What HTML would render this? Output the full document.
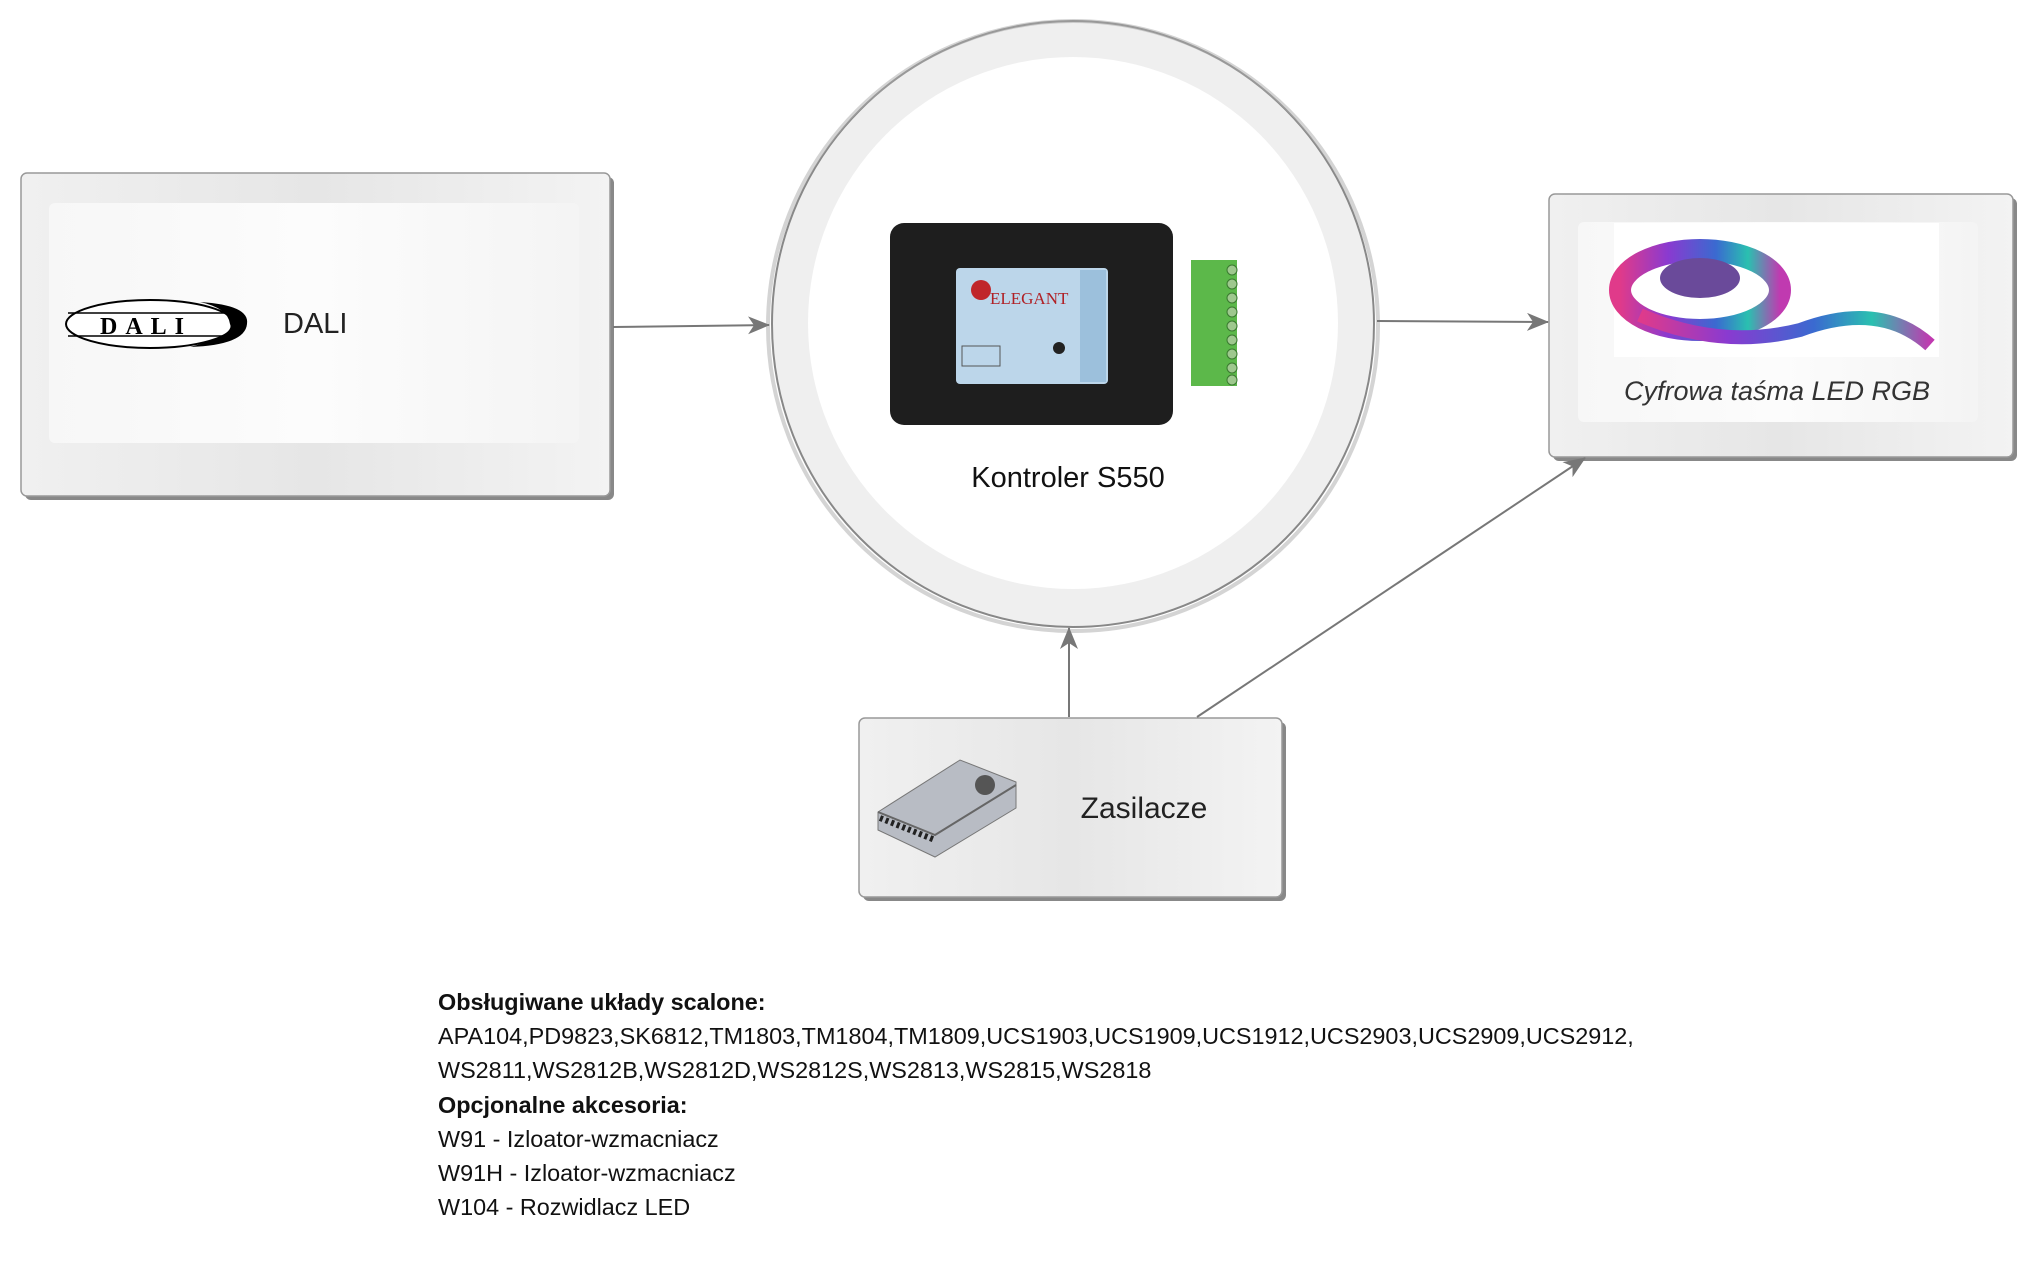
<!DOCTYPE html>
<html><head><meta charset="utf-8"><style>
html,body{margin:0;padding:0;background:#fff;}
body{width:2030px;height:1276px;overflow:hidden;position:relative;font-family:"Liberation Sans",sans-serif;}
.txt{position:absolute;left:438px;top:985px;font-size:23.4px;line-height:34.2px;color:#111;}
.txt b{font-weight:bold;}
</style></head><body>
<svg width="2030" height="1276" viewBox="0 0 2030 1276" xmlns="http://www.w3.org/2000/svg" style="position:absolute;left:0;top:0">
<defs>
<linearGradient id="bx" x1="0" x2="1" y1="0" y2="0">
<stop offset="0" stop-color="#f0f0f0"/><stop offset="0.5" stop-color="#e6e6e6"/><stop offset="1" stop-color="#f3f3f3"/></linearGradient>
<linearGradient id="inn" x1="0" x2="1"><stop offset="0" stop-color="#f7f7f7"/><stop offset="0.5" stop-color="#fcfcfc"/><stop offset="1" stop-color="#f4f4f4"/></linearGradient>
<marker id="ar" markerWidth="22" markerHeight="18" refX="21" refY="9" orient="auto" markerUnits="userSpaceOnUse">
<path d="M0,0 L22,9 L0,18 L6,9 Z" fill="#777"/></marker>
<linearGradient id="strip" x1="0" x2="1"><stop offset="0" stop-color="#e03a8a"/><stop offset="0.3" stop-color="#8a3ad0"/><stop offset="0.6" stop-color="#3a6ad0"/><stop offset="0.8" stop-color="#2ac0b0"/><stop offset="1" stop-color="#c03ab0"/></linearGradient>
</defs>
<!-- DALI box -->
<rect x="25" y="177" width="589" height="323" rx="6" fill="#888"/>
<rect x="21" y="173" width="589" height="323" rx="6" fill="url(#bx)" stroke="#999" stroke-width="1.5"/>
<rect x="49" y="203" width="530" height="240" rx="6" fill="url(#inn)"/>
<ellipse cx="150" cy="324" rx="84" ry="24" fill="#fff" stroke="#000" stroke-width="2"/>
<path d="M200,302 Q250,305 247,324 Q245,345 190,347 Q235,335 230,324 Q228,308 200,302Z" fill="#000"/>
<line x1="68" y1="313" x2="234" y2="313" stroke="#000" stroke-width="1.5"/>
<line x1="68" y1="336" x2="234" y2="336" stroke="#000" stroke-width="1.5"/>
<text x="146" y="334" font-family="Liberation Serif,serif" font-weight="bold" font-size="24" text-anchor="middle" letter-spacing="8">DALI</text>
<text x="283" y="333" font-size="29" fill="#222">DALI</text>
<!-- circle -->
<ellipse cx="1073" cy="324" rx="301" ry="303" fill="#efefef" stroke="#888" stroke-width="2"/>
<ellipse cx="1073" cy="326" rx="305" ry="305" fill="none" stroke="#aaa" stroke-width="4" opacity="0.5"/>
<ellipse cx="1073" cy="323" rx="265" ry="266" fill="#fff"/>
<rect x="890" y="223" width="283" height="202" rx="14" fill="#1e1e1e"/>
<rect x="956" y="268" width="152" height="116" rx="4" fill="#bcd6ea"/>
<rect x="1080" y="270" width="26" height="112" fill="#9cc0dc"/>
<circle cx="981" cy="290" r="10" fill="#c0262a"/>
<text x="990" y="304" font-family="Liberation Serif,serif" font-size="17" fill="#b02025">ELEGANT</text>
<rect x="962" y="346" width="38" height="20" fill="none" stroke="#555"/>
<circle cx="1059" cy="348" r="6" fill="#222"/>
<rect x="1191" y="260" width="46" height="126" fill="#5cb84a"/>
<g fill="#9ec88e" stroke="#3a7a30"><circle cx="1232" cy="270" r="5"/><circle cx="1232" cy="284" r="5"/><circle cx="1232" cy="298" r="5"/><circle cx="1232" cy="312" r="5"/><circle cx="1232" cy="326" r="5"/><circle cx="1232" cy="340" r="5"/><circle cx="1232" cy="354" r="5"/><circle cx="1232" cy="368" r="5"/><circle cx="1232" cy="380" r="5"/></g>
<text x="1068" y="487" font-size="29" text-anchor="middle" fill="#111">Kontroler S550</text>
<!-- right box -->
<rect x="1553" y="198" width="464" height="263" rx="6" fill="#888"/>
<rect x="1549" y="194" width="464" height="263" rx="6" fill="url(#bx)" stroke="#999" stroke-width="1.5"/>
<rect x="1578" y="222" width="400" height="200" rx="6" fill="url(#inn)"/>
<rect x="1614" y="223" width="325" height="134" fill="#fff"/>
<ellipse cx="1700" cy="290" rx="80" ry="40" fill="none" stroke="url(#strip)" stroke-width="22"/>
<ellipse cx="1700" cy="278" rx="40" ry="20" fill="#6a4a9a"/>
<path d="M1640,315 Q1720,350 1800,330 Q1880,300 1930,345" fill="none" stroke="url(#strip)" stroke-width="14"/>
<text x="1777" y="400" font-size="27" font-style="italic" text-anchor="middle" fill="#333">Cyfrowa taśma LED RGB</text>
<!-- zasilacze box -->
<rect x="863" y="722" width="423" height="179" rx="6" fill="#888"/>
<rect x="859" y="718" width="423" height="179" rx="6" fill="url(#bx)" stroke="#999" stroke-width="1.5"/>
<path d="M878,812 L960,760 L1016,782 L1016,808 L935,857 L878,830Z" fill="#b8bcc4" stroke="#777"/>
<path d="M878,812 L935,835 L1016,785" fill="none" stroke="#666" stroke-width="2"/>
<circle cx="985" cy="785" r="10" fill="#555"/>
<path d="M880,818 L935,840" stroke="#222" stroke-width="6" stroke-dasharray="3,3"/>
<text x="1144" y="818" font-size="30" text-anchor="middle" fill="#222">Zasilacze</text>
<!-- arrows -->
<g stroke="#777" stroke-width="2" fill="none">
<line x1="613" y1="327" x2="769" y2="325" marker-end="url(#ar)"/>
<line x1="1377" y1="321" x2="1548" y2="322" marker-end="url(#ar)"/>
<line x1="1069" y1="717" x2="1069" y2="628" marker-end="url(#ar)"/>
<line x1="1197" y1="717" x2="1585" y2="458" marker-end="url(#ar)"/>
</g>
</svg>
<div class="txt">
<b>Obsługiwane układy scalone:</b><br>
APA104,PD9823,SK6812,TM1803,TM1804,TM1809,UCS1903,UCS1909,UCS1912,UCS2903,UCS2909,UCS2912,<br>
WS2811,WS2812B,WS2812D,WS2812S,WS2813,WS2815,WS2818<br>
<b>Opcjonalne akcesoria:</b><br>
W91 - Izloator-wzmacniacz<br>
W91H - Izloator-wzmacniacz<br>
W104 - Rozwidlacz LED
</div>
</body></html>
